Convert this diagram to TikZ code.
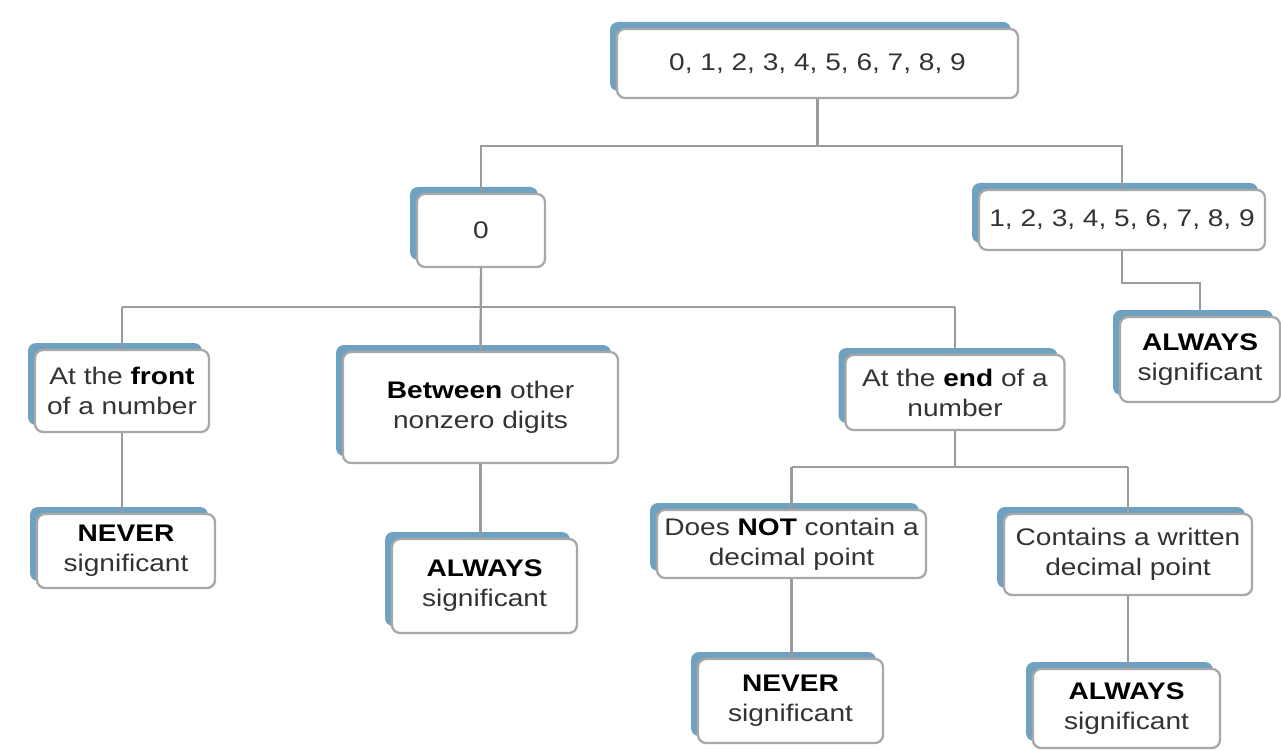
\documentclass[tikz,border=0pt]{standalone}
\usepackage{fontspec}
\setmainfont{Liberation Sans}[FakeStretch=1.17]
\usetikzlibrary{shadows}
\definecolor{boxblue}{HTML}{6FA2C0}
\definecolor{boxgray}{HTML}{A8A8A8}
\definecolor{linegray}{HTML}{969C9F}
\definecolor{textgray}{HTML}{333333}
\newcommand\boldword[1]{\textbf{\color{black}#1}}
\tikzset{
  sbox/.style={draw=boxgray, line width=2.3pt, fill=white, rounded corners=8pt,
    general shadow={fill=boxblue, shadow xshift=-7pt, shadow yshift=7pt},
    align=center, text=textgray, inner sep=2pt,
    font=\fontsize{24}{30}\selectfont},
  conn/.style={draw=linegray, line width=2.4pt}
}
\begin{document}
\begin{tikzpicture}[x=1pt,y=-1pt]
\useasboundingbox (0,0) rectangle (1281,751);
\node[sbox, minimum width=401pt, minimum height=69pt] (top) at (817.5,63.5) {0, 1, 2, 3, 4, 5, 6, 7, 8, 9};
\node[sbox, minimum width=128pt, minimum height=73pt] (zero) at (481,230.5) {0};
\node[sbox, minimum width=286pt, minimum height=60pt] (nz) at (1122,220) {1, 2, 3, 4, 5, 6, 7, 8, 9};
\node[sbox, minimum width=160pt, minimum height=85pt] (alwR) at (1200,359.5) {\boldword{ALWAYS}\\significant};
\node[sbox, minimum width=174pt, minimum height=82pt] (front) at (122,391) {At the \boldword{front}\\of a number};
\node[sbox, minimum width=275pt, minimum height=111pt] (betw) at (480.5,407.5) {\boldword{Between} other\\nonzero digits};
\node[sbox, minimum width=219pt, minimum height=75pt] (endn) at (955,392.5) {At the \boldword{end} of a\\number};
\node[sbox, minimum width=178pt, minimum height=74pt] (neverL) at (126,551) {\boldword{NEVER}\\significant};
\node[sbox, minimum width=185pt, minimum height=94pt] (alwM) at (484.5,586) {\boldword{ALWAYS}\\significant};
\node[sbox, minimum width=269pt, minimum height=68pt] (notdec) at (791.5,544) {Does \boldword{NOT} contain a\\decimal point};
\node[sbox, minimum width=248pt, minimum height=81pt] (contd) at (1128,554.5) {Contains a written\\decimal point};
\node[sbox, minimum width=185pt, minimum height=84pt] (neverB) at (790.5,701) {\boldword{NEVER}\\significant};
\node[sbox, minimum width=187pt, minimum height=79pt] (alwB) at (1126.5,708.5) {\boldword{ALWAYS}\\significant};
% connectors
\path[conn] (top.south) -- (top.south |- 0,146);
\path[conn] (zero.north) -- (zero.north |- 0,146) -- (nz.north |- 0,146) -- (nz.north);
\path[conn] (nz.south) -- (nz.south |- 0,283) -- (alwR.north |- 0,283) -- (alwR.north);
\path[conn] (zero.south) -- (betw.north);
\path[conn] (front.north |- 0,307) -- (endn.north |- 0,307);
\path[conn] (front.north) -- (front.north |- 0,307);
\path[conn] (endn.north) -- (endn.north |- 0,307);
\path[conn] (front.south) -- (front.south |- neverL.north);
\path[conn] (betw.south) -- (betw.south |- alwM.north);
\path[conn] (endn.south) -- (endn.south |- 0,467);
\path[conn] (notdec.north |- 0,467) -- (contd.north |- 0,467);
\path[conn] (notdec.north) -- (notdec.north |- 0,467);
\path[conn] (contd.north) -- (contd.north |- 0,467);
\path[conn] (notdec.south) -- (notdec.south |- neverB.north);
\path[conn] (contd.south) -- (contd.south |- alwB.north);
\end{tikzpicture}
\end{document}
